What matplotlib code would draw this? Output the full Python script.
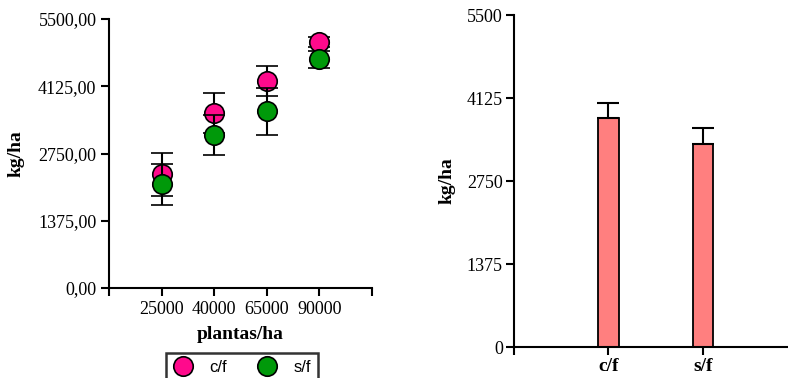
import matplotlib.pyplot as plt
from matplotlib.lines import Line2D

# Data
densidades = ["25000", "40000", "65000", "90000"]
cf_media = [2325, 3585, 4233, 5024]
cf_erro = [440, 410, 314, 100]
sf_media = [2120, 3129, 3613, 4676]
sf_erro = [420, 415, 477, 170]

tratamentos = ["c/f", "s/f"]
trat_media = [3802, 3370]
trat_erro = [243, 255]

serif = "Liberation Serif"
plt.rcParams["font.family"] = serif

fig = plt.figure(figsize=(7.88, 3.78), dpi=100)

# Left - scatter with error bars
ax1 = fig.add_axes([0.1383, 0.238, 0.3338, 0.7116])
xpos = list(range(1, len(densidades) + 1))
ax1.errorbar(xpos, cf_media, yerr=cf_erro, fmt="o", color="black",
             mfc="#ff0a8c", mec="black", mew=1.2, ms=14, capsize=8,
             elinewidth=1.5, capthick=1.5, zorder=3)
ax1.errorbar(xpos, sf_media, yerr=sf_erro, fmt="o", color="black",
             mfc="#00990a", mec="black", mew=1.2, ms=14, capsize=8,
             elinewidth=1.5, capthick=1.5, zorder=4)
ax1.set_xlim(0, 5)
ax1.set_ylim(0, 5500)
ax1.set_xticks(range(0, 6))
ax1.set_xticklabels([""] + densidades + [""], fontsize=13)
ax1.set_yticks([0, 1375, 2750, 4125, 5500])
ax1.set_yticklabels(["0,00", "1375,00", "2750,00", "4125,00", "5500,00"], fontsize=13)
ax1.set_xlabel("plantas/ha", fontsize=14, fontweight="bold", labelpad=6)
ax1.set_ylabel("kg/ha", fontsize=14, fontweight="bold", labelpad=10)
for s in ["top", "right"]:
    ax1.spines[s].set_visible(False)
for s in ["left", "bottom"]:
    ax1.spines[s].set_linewidth(1.5)
ax1.tick_params(direction="out", length=6, width=1.5, colors="black", pad=3)

handles = [
    Line2D([], [], marker="o", ls="", mfc="#ff0a8c", mec="black", mew=1.2, ms=14),
    Line2D([], [], marker="o", ls="", mfc="#00990a", mec="black", mew=1.2, ms=14),
]
leg = fig.legend(handles, tratamentos, loc="upper left",
                 bbox_to_anchor=(0.2107, 0.066), ncol=2, frameon=True,
                 fancybox=False, edgecolor="black", handletextpad=1.0,
                 columnspacing=1.8, borderpad=0.4, handlelength=1.2,
                 borderaxespad=0.0,
                 prop={"family": "Liberation Sans", "size": 12})
leg.get_frame().set_linewidth(1.8)

# Right - bar chart
ax2 = fig.add_axes([0.6523, 0.082, 0.3477, 0.878])
bpos = [1, 2]
ax2.bar(bpos, trat_media, width=0.22, color="#ff7f7f", edgecolor="black",
        linewidth=1.3)
ax2.errorbar(bpos, trat_media, yerr=[[0, 0], trat_erro], fmt="none",
             ecolor="black", elinewidth=1.5, capsize=8, capthick=1.5)
ax2.set_xlim(0, 2.9)
ax2.set_ylim(0, 5500)
ax2.set_xticks([0] + bpos)
ax2.set_xticklabels([""] + tratamentos, fontsize=14, fontweight="bold")
ax2.set_yticks([0, 1375, 2750, 4125, 5500])
ax2.set_yticklabels(["0", "1375", "2750", "4125", "5500"], fontsize=13)
ax2.set_ylabel("kg/ha", fontsize=14, fontweight="bold", labelpad=8)
for s in ["top", "right"]:
    ax2.spines[s].set_visible(False)
for s in ["left", "bottom"]:
    ax2.spines[s].set_linewidth(1.5)
ax2.tick_params(direction="out", length=6, width=1.5, colors="black", pad=2)

fig.savefig("out.png", dpi=100)
